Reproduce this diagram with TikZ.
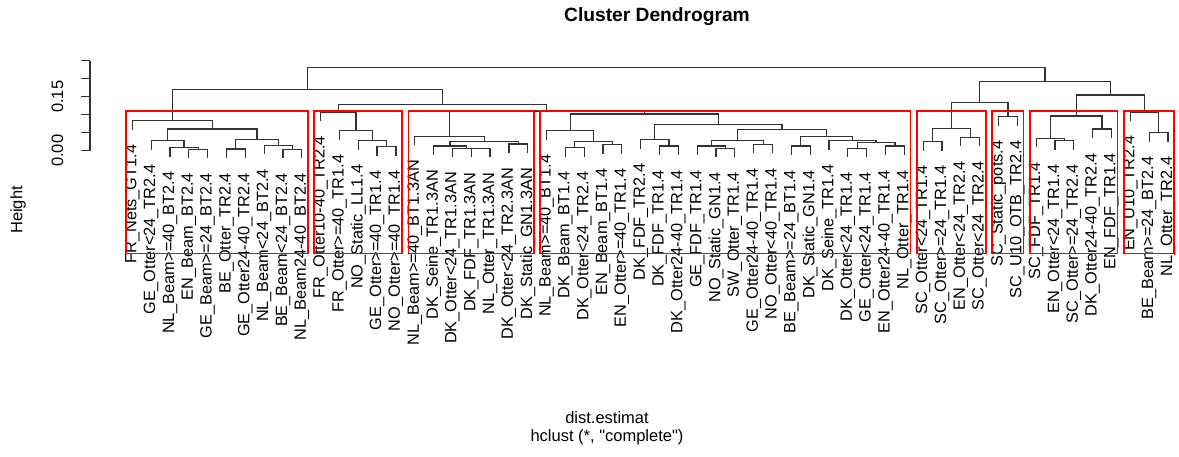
\documentclass[tikz,border=0pt]{standalone}
\usepackage{fontspec}
\setmainfont{Liberation Sans}
\usetikzlibrary{calc}
\newcommand{\dmerge}[4]{%
  \path ($(#2)!0.5!(#3)$) coordinate (#1tmp);
  \coordinate (#1) at (#1tmp |- 0,#4);
  \draw[dend] (#2) |- (#1) -| (#3);}
\newcommand{\dleaf}[3]{%
  \coordinate (l#1) at ({132.3+(#1-1)*18.83},#2);
  \node[lab] (t#1) at ({132.3+(#1-1)*18.83},{#2+15}) {#3};}
\begin{document}
\begin{tikzpicture}[x=1pt,y=-1pt,
  dend/.style={draw=black!80,line width=1.2pt},
  redbox/.style={draw=red,line width=1.6pt},
  lab/.style={rotate=90,anchor=east,inner sep=0pt,font=\fontsize{16.3}{19}\selectfont},
  axlab/.style={inner sep=0pt,font=\fontsize{16.5}{19}\selectfont}]
\useasboundingbox (0,0) rectangle (1179,456);
% title and axis texts
\node[inner sep=0pt,font=\bfseries\fontsize{19.2}{22}\selectfont] (title) at (657,17) {Cluster Dendrogram};
\node[axlab,rotate=90] (ylab) at (18,210) {Height};
\node[axlab,rotate=90] (t000) at (57.5,150.7) {0.00};
\node[axlab,rotate=90] (t015) at (57.5,96.7) {0.15};
\node[axlab] (xlab) at (607,418) {dist.estimat};
\node[axlab] (sub) at (607,437) {hclust (*, \textquotedbl complete\textquotedbl)};
% axis
\draw[dend] (90,60.7) -- (90,150.7);
\foreach \yy in {60.7,78.7,96.7,114.7,132.7,150.7} \draw[dend] (81,\yy) -- (90,\yy);
% leaves
\dleaf{1}{129.5}{FR\_Nets\_GT1.4}
\dleaf{2}{149.5}{GE\_Otter<24\_TR2.4}
\dleaf{3}{156.5}{NL\_Beam>=40\_BT2.4}
\dleaf{4}{158.1}{EN\_Beam\_BT2.4}
\dleaf{5}{158.1}{GE\_Beam>=24\_BT2.4}
\dleaf{6}{157.8}{BE\_Otter\_TR2.4}
\dleaf{7}{157.8}{GE\_Otter24-40\_TR2.4}
\dleaf{8}{154.1}{NL\_Beam<24\_BT2.4}
\dleaf{9}{158.1}{BE\_Beam<24\_BT2.4}
\dleaf{10}{158.1}{NL\_Beam24-40\_BT2.4}
\dleaf{11}{120.9}{FR\_Otter10-40\_TR2.4}
\dleaf{12}{139.5}{FR\_Otter>=40\_TR1.4}
\dleaf{13}{149.5}{NO\_Static\_LL1.4}
\dleaf{14}{155.5}{GE\_Otter>=40\_TR1.4}
\dleaf{15}{155.5}{NO\_Otter>=40\_TR1.4}
\dleaf{16}{145}{NL\_Beam>=40\_BT1.3AN}
\dleaf{17}{154.8}{DK\_Seine\_TR1.3AN}
\dleaf{18}{156.9}{DK\_Otter<24\_TR1.3AN}
\dleaf{19}{157.3}{DK\_FDF\_TR1.3AN}
\dleaf{20}{157.3}{NL\_Otter\_TR1.3AN}
\dleaf{21}{152.8}{DK\_Otter<24\_TR2.3AN}
\dleaf{22}{152.8}{DK\_Static\_GN1.3AN}
\dleaf{23}{139.5}{NL\_Beam>=40\_BT1.4}
\dleaf{24}{156.5}{DK\_Beam\_BT1.4}
\dleaf{25}{156.5}{DK\_Otter<24\_TR2.4}
\dleaf{26}{153.6}{EN\_Beam\_BT1.4}
\dleaf{27}{153.6}{EN\_Otter>=40\_TR1.4}
\dleaf{28}{148.5}{DK\_FDF\_TR2.4}
\dleaf{29}{154.8}{DK\_FDF\_TR1.4}
\dleaf{30}{154.8}{DK\_Otter24-40\_TR1.4}
\dleaf{31}{154.8}{GE\_FDF\_TR1.4}
\dleaf{32}{157.1}{NO\_Static\_GN1.4}
\dleaf{33}{157.1}{SW\_Otter\_TR1.4}
\dleaf{34}{153.1}{GE\_Otter24-40\_TR1.4}
\dleaf{35}{153.1}{NO\_Otter<40\_TR1.4}
\dleaf{36}{154.8}{BE\_Beam>=24\_BT1.4}
\dleaf{37}{154.8}{DK\_Static\_GN1.4}
\dleaf{38}{149.5}{DK\_Seine\_TR1.4}
\dleaf{39}{157.1}{DK\_Otter<24\_TR1.4}
\dleaf{40}{157.1}{GE\_Otter<24\_TR1.4}
\dleaf{41}{154.8}{EN\_Otter24-40\_TR1.4}
\dleaf{42}{154.8}{NL\_Otter\_TR1.4}
\dleaf{43}{150.5}{SC\_Otter<24\_TR1.4}
\dleaf{44}{150.5}{SC\_Otter>=24\_TR1.4}
\dleaf{45}{146.1}{EN\_Otter<24\_TR2.4}
\dleaf{46}{146.1}{SC\_Otter<24\_TR2.4}
\dleaf{47}{125.5}{SC\_Static\_pots.4}
\dleaf{48}{125.5}{SC\_U10\_OTB\_TR2.4}
\dleaf{49}{147.1}{SC\_FDF\_TR1.4}
\dleaf{50}{149.5}{EN\_Otter<24\_TR1.4}
\dleaf{51}{149.5}{SC\_Otter>=24\_TR2.4}
\dleaf{52}{137.8}{DK\_Otter24-40\_TR2.4}
\dleaf{53}{137.8}{EN\_FDF\_TR1.4}
\dleaf{54}{120.7}{EN\_U10\_TR2.4}
\dleaf{55}{141.5}{BE\_Beam>=24\_BT2.4}
\dleaf{56}{141.5}{NL\_Otter\_TR2.4}
% cluster 1
\dmerge{a1}{l4}{l5}{149.3}
\dmerge{a2}{l3}{a1}{147.7}
\dmerge{a3}{l2}{a2}{140.7}
\dmerge{a4}{l6}{l7}{149}
\dmerge{a5}{l9}{l10}{149.3}
\dmerge{a6}{l8}{a5}{145.3}
\dmerge{a7}{a4}{a6}{139.3}
\dmerge{a8}{a3}{a7}{129}
\dmerge{C1}{l1}{a8}{120.7}
% cluster 2
\dmerge{b1}{l14}{l15}{146.7}
\dmerge{b2}{l13}{b1}{140.7}
\dmerge{b3}{l12}{b2}{130.7}
\dmerge{C2}{l11}{b3}{112.1}
% cluster 3
\dmerge{c1}{l19}{l20}{148.5}
\dmerge{c2}{l18}{c1}{148.1}
\dmerge{c3}{l17}{c2}{146}
\dmerge{c4}{l21}{l22}{144}
\dmerge{c5}{c3}{c4}{141.7}
\dmerge{C3}{l16}{c5}{136.2}
% cluster 4
\dmerge{d1}{l24}{l25}{147.7}
\dmerge{d2}{l26}{l27}{144.8}
\dmerge{d3}{d1}{d2}{141.7}
\dmerge{d4}{l23}{d3}{130.7}
\dmerge{d5}{l29}{l30}{146}
\dmerge{d6}{l28}{d5}{139.7}
\dmerge{d7}{l32}{l33}{148.3}
\dmerge{d8}{l31}{d7}{146}
\dmerge{d9}{l34}{l35}{144.3}
\dmerge{d10}{d8}{d9}{140.7}
\dmerge{d11}{l36}{l37}{146}
\dmerge{d12}{l39}{l40}{148.3}
\dmerge{d13}{l41}{l42}{146}
\dmerge{d14}{d12}{d13}{142.7}
\dmerge{d15}{l38}{d14}{140.7}
\dmerge{d16}{d11}{d15}{136.7}
\dmerge{d17}{d10}{d16}{129.7}
\dmerge{d18}{d6}{d17}{124.3}
\dmerge{C4}{d4}{d18}{114}
% clusters 5-8
\dmerge{e1}{l43}{l44}{141.7}
\dmerge{e2}{l45}{l46}{137.3}
\dmerge{C5}{e1}{e2}{128.3}
\dmerge{C6}{l47}{l48}{116.7}
\dmerge{f1}{l50}{l51}{140.7}
\dmerge{f2}{l49}{f1}{138.3}
\dmerge{f3}{l52}{l53}{129}
\dmerge{C7}{f2}{f3}{116}
\dmerge{g1}{l55}{l56}{132.7}
\dmerge{C8}{l54}{g1}{111.9}
% upper merges
\dmerge{m34}{C3}{C4}{110.9}
\dmerge{m234}{C2}{m34}{104.3}
\dmerge{mL}{C1}{m234}{89.3}
\dmerge{m56}{C5}{C6}{102.3}
\dmerge{m78}{C7}{C8}{95}
\dmerge{mR}{m56}{m78}{81.7}
\dmerge{root}{mL}{mR}{67.7}
% red boxes
\draw[redbox] (125.9,111.2) -- (307.98,111.2) -- (307.98,253.3) -- (125.9,253.3) -- cycle;
\draw[redbox] (314.2,111.2) -- (402.13,111.2) -- (402.13,253.3) -- (314.2,253.3) -- cycle;
\draw[redbox] (408.35,111.2) -- (533.94,111.2) -- (533.94,253.3) -- (408.35,253.3) -- cycle;
\draw[redbox] (540.16,111.2) -- (910.54,111.2) -- (910.54,253.3) -- (540.16,253.3) -- cycle;
\draw[redbox] (916.76,111.2) -- (985.86,111.2) -- (985.86,253.3) -- (916.76,253.3) -- cycle;
\draw[redbox] (992.08,111.2) -- (1023.52,111.2) -- (1023.52,253.3) -- (992.08,253.3) -- cycle;
\draw[redbox] (1029.74,111.2) -- (1117.67,111.2) -- (1117.67,253.3) -- (1029.74,253.3) -- cycle;
\draw[redbox] (1123.89,111.2) -- (1174.16,111.2) -- (1174.16,253.3) -- (1123.89,253.3) -- cycle;
\end{tikzpicture}
\end{document}
